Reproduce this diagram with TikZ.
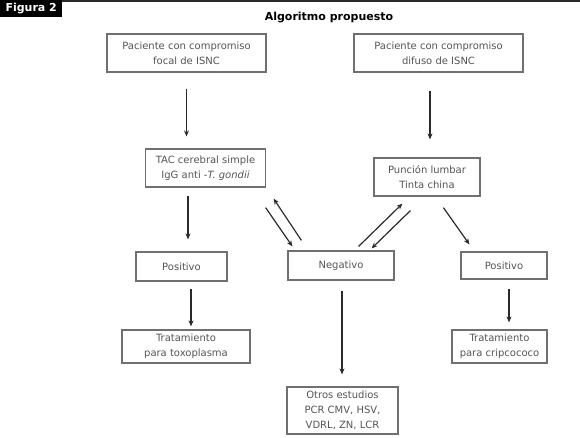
\documentclass[tikz,border=0pt]{standalone}
\usepackage{fontspec}
\setmainfont{DejaVu Sans}
\usetikzlibrary{arrows.meta,calc}
\definecolor{boxgray}{HTML}{707070}
\definecolor{txtgray}{HTML}{555555}
\definecolor{arrgray}{HTML}{2A2A2A}
\begin{document}
\begin{tikzpicture}[x=1pt,y=-1pt,
  box/.style={draw=boxgray, line width=1.2pt, fill=white, text=txtgray,
    font=\fontsize{10}{15}\selectfont, align=center, inner sep=0pt},
  arr/.style={draw=arrgray, line width=1.2pt, -{Stealth[length=6pt,width=5pt]}}]
\useasboundingbox (0,0) rectangle (580,437);
% header
\node[fill=black, text=white, font=\bfseries\fontsize{11}{13}\selectfont,
  minimum width=62pt, minimum height=17pt, inner sep=0pt, anchor=north west] (fig) at (0,0) {Figura 2};
\draw[line width=2pt, arrgray] (fig.north east) ++(0,1) -- (580,1);
\node[font=\bfseries\fontsize{11}{13}\selectfont, text=black] (title) at (329,18) {Algoritmo propuesto};
% boxes
\node[box, minimum width=159pt, minimum height=38pt] (b1) at (186.5,53) {Paciente con compromiso\\focal de ISNC};
\node[box, minimum width=169pt, minimum height=38pt] (b2) at (438.5,53) {Paciente con compromiso\\difuso de ISNC};
\node[box, minimum width=120pt, minimum height=38pt] (tac) at (205.5,168) {TAC cerebral simple\\IgG anti -\textit{T. gondii}};
\node[box, minimum width=106pt, minimum height=38pt] (pl) at (427,177) {Punción lumbar\\Tinta china};
\node[box, minimum width=91pt, minimum height=29pt] (posl) at (181.5,266.5) {Positivo};
\node[box, minimum width=106pt, minimum height=29pt] (neg) at (341,265.5) {Negativo};
\node[box, minimum width=86pt, minimum height=27pt] (posr) at (504,265.5) {Positivo};
\node[box, minimum width=128pt, minimum height=33pt] (tt) at (186,346.5) {Tratamiento\\para toxoplasma};
\node[box, minimum width=95pt, minimum height=33pt] (tc) at (499.5,346.5) {Tratamiento\\para cripcococo};
\node[box, minimum width=111pt, minimum height=47pt] (otros) at (342.5,410.5) {Otros estudios\\PCR CMV, HSV,\\VDRL, ZN, LCR};
% vertical arrows
\draw[arr, shorten <=16pt, shorten >=12pt] (b1.south) -- (b1.south |- tac.north);
\draw[arr, shorten <=18pt, shorten >=18pt] ($(b2.south)+(-8.5,0)$) -- ($(b2.south |- pl.north)+(-8.5,0)$);
\draw[arr, shorten <=8pt, shorten >=12pt] ($(tac.south)+(-17.5,0)$) -- ($(tac.south |- posl.north)+(-17.5,0)$);
\draw[arr, shorten <=7pt, shorten >=3pt] ($(posl.south)+(9.5,0)$) -- ($(posl.south |- tt.north)+(9.5,0)$);
\draw[arr, shorten <=9pt, shorten >=7pt] ($(posr.south)+(5,0)$) -- ($(posr.south |- tc.north)+(5,0)$);
\draw[arr, shorten <=10pt, shorten >=12pt] ($(neg.south)+(1,0)$) -- ($(neg.south |- otros.north)+(1,0)$);
% diagonal arrows
\draw[arr] ($(tac.south east)+(-0.5,20)$) -- ($(neg.north west)+(5,-4)$);
\draw[arr] ($(neg.north west)+(14,-10)$) -- ($(tac.south east)+(7.5,11)$);
\draw[arr] ($(neg.north east)+(-36,-4)$) -- ($(pl.south west)+(29,7)$);
\draw[arr] ($(pl.south west)+(37,14)$) -- ($(neg.north east)+(-23,-2)$);
\draw[arr] ($(pl.south west)+(70,11)$) -- ($(posr.north west)+(9,-7)$);
\end{tikzpicture}
\end{document}
